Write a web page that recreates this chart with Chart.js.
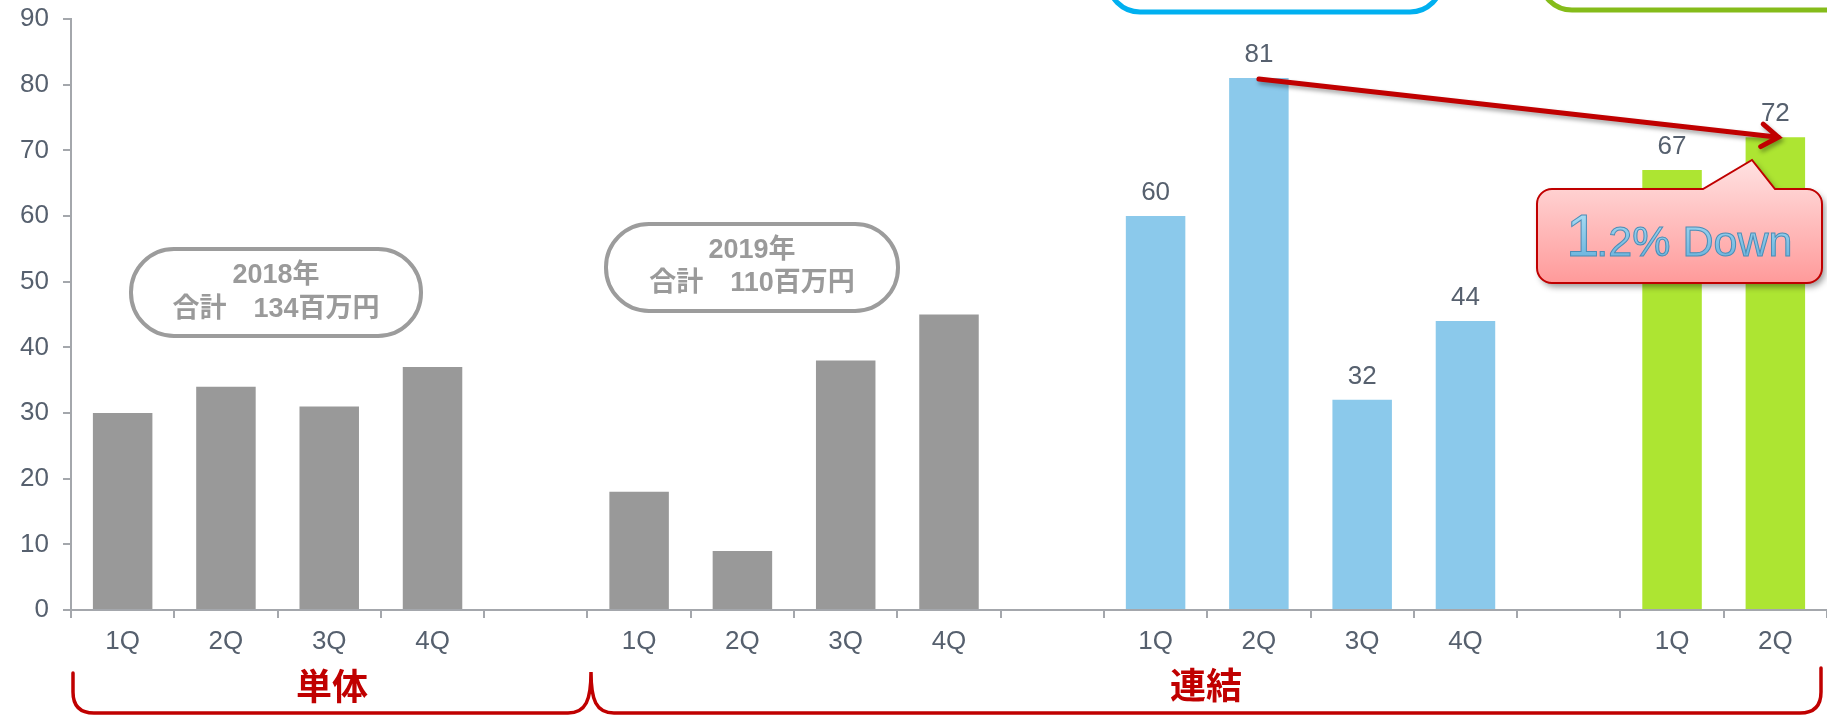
<!DOCTYPE html>
<html>
<head>
<meta charset="utf-8">
<script src="https://cdn.jsdelivr.net/npm/chart.js@4.4.0/dist/chart.umd.min.js"></script>
<style>
  html, body { margin: 0; padding: 0; background: #fff; }
  #wrap { width: 1827px; height: 723px; }
</style>
</head>
<body>
<div id="wrap"><canvas id="salesChart" width="1827" height="723"></canvas></div>
<script>
// quarter labels, blank slot between the year groups
const quarterLabels = ['1Q', '2Q', '3Q', '4Q', '', '1Q', '2Q', '3Q', '4Q', '', '1Q', '2Q', '3Q', '4Q', '', '1Q', '2Q'];

// values (百万円)
const tanti2018 = [30, 34, 31, 37];
const tanti2019 = [18, 9, 38, 45];
const renketsu2020 = [60, 81, 32, 44];
const renketsu2021 = [67, 72];

const groupColors = ['#999999', '#999999', '#8bc9eb', '#ade532'];
const groupShowValue = [false, false, true, true];
const yTicks = [0, 10, 20, 30, 40, 50, 60, 70, 80, 90];

// flatten groups into one series with gaps
const groups = [tanti2018, tanti2019, renketsu2020, renketsu2021];
const values = [];
const colors = [];
const showValue = [];
groups.forEach((g, gi) => {
  g.forEach(v => {
    values.push(v);
    colors.push(groupColors[gi]);
    showValue.push(groupShowValue[gi]);
  });
  if (gi < groups.length - 1) {
    values.push(null);
    colors.push('#ffffff');
    showValue.push(false);
  }
});

const axisGrey = '#a4a7ac';
const tickFont = { family: '"Liberation Sans", Arial, sans-serif', size: 26 };
const tickColor = '#56606e';

function roundPill(ctx, x, y, w, h, r) {
  ctx.beginPath();
  ctx.roundRect(x, y, w, h, r);
}

// annotations: value labels, pills, braces, arrow and callout
const annotations = {
  id: 'annotations',
  afterDatasetsDraw(chart) {
    const ctx = chart.ctx;
    const meta = chart.getDatasetMeta(0);
    ctx.save();
    ctx.font = '26px "Liberation Sans", Arial, sans-serif';
    ctx.fillStyle = tickColor;
    ctx.textAlign = 'center';
    ctx.textBaseline = 'alphabetic';
    meta.data.forEach((bar, i) => {
      if (showValue[i] && values[i] != null) {
        ctx.fillText(String(values[i]), bar.x, bar.y - 16);
      }
    });
    ctx.restore();
  },
  afterDraw(chart) {
    const ctx = chart.ctx;
    const meta = chart.getDatasetMeta(0);
    ctx.save();

    // top boxes (cut off by the top edge)
    ctx.lineWidth = 5;
    ctx.strokeStyle = '#00b0f0';
    roundPill(ctx, 1108, -80, 334, 92, 32);
    ctx.stroke();
    ctx.strokeStyle = '#85bc1a';
    roundPill(ctx, 1540, -80, 320, 90, 32);
    ctx.stroke();

    // year total pills
    ctx.lineWidth = 4;
    ctx.strokeStyle = '#9c9c9c';
    roundPill(ctx, 131, 249, 290, 87, 43);
    ctx.stroke();
    roundPill(ctx, 606, 224, 292, 87, 43);
    ctx.stroke();
    ctx.fillStyle = '#9a9a9a';
    ctx.font = 'bold 27px "Liberation Sans", "Noto Sans CJK JP", sans-serif';
    ctx.textAlign = 'center';
    ctx.textBaseline = 'middle';
    ctx.fillText('2018年', 276, 276);
    ctx.fillText('合計\u3000134百万円', 276, 310);
    ctx.fillText('2019年', 752, 251);
    ctx.fillText('合計\u3000110百万円', 752, 284);

    // braces under the axis
    ctx.strokeStyle = '#c00000';
    ctx.lineWidth = 3.5;
    ctx.lineCap = 'round';
    ctx.beginPath();
    ctx.moveTo(73, 673);
    ctx.lineTo(73, 692);
    ctx.quadraticCurveTo(73, 713, 94, 713);
    ctx.lineTo(568, 713);
    ctx.bezierCurveTo(586, 713, 591, 700, 591, 672);
    ctx.bezierCurveTo(591, 700, 596, 713, 614, 713);
    ctx.lineTo(1800, 713);
    ctx.quadraticCurveTo(1821, 713, 1821, 692);
    ctx.lineTo(1821, 668);
    ctx.stroke();
    ctx.fillStyle = '#c00000';
    ctx.font = 'bold 36px "Noto Sans CJK JP", sans-serif';
    ctx.textBaseline = 'middle';
    ctx.fillText('単体', 332, 686);
    ctx.fillText('連結', 1206, 685);

    // arrow from 2Q (81) to latest 2Q (72)
    const from = meta.data[11];
    const to = meta.data[16];
    const x1 = from.x, y1 = from.y + 1;
    const x2 = to.x + 3, y2 = to.y;
    ctx.shadowColor = 'rgba(0,0,0,0.35)';
    ctx.shadowBlur = 4;
    ctx.shadowOffsetX = 2;
    ctx.shadowOffsetY = 3;
    ctx.strokeStyle = '#c00000';
    ctx.lineWidth = 5;
    ctx.beginPath();
    ctx.moveTo(x1, y1);
    ctx.lineTo(x2, y2);
    const ang = Math.atan2(y2 - y1, x2 - x1);
    const hl = 20;
    ctx.moveTo(x2 - hl * Math.cos(ang - 0.6), y2 - hl * Math.sin(ang - 0.6));
    ctx.lineTo(x2, y2);
    ctx.lineTo(x2 - hl * Math.cos(ang + 0.6), y2 - hl * Math.sin(ang + 0.6));
    ctx.stroke();

    // callout "1.2% Down"
    const L = 1537, R = 1822, T = 189, B = 283, r = 15;
    ctx.beginPath();
    ctx.moveTo(L + r, T);
    ctx.lineTo(1703, T);
    ctx.lineTo(1752, 160);
    ctx.lineTo(1775, T);
    ctx.lineTo(R - r, T);
    ctx.arcTo(R, T, R, T + r, r);
    ctx.lineTo(R, B - r);
    ctx.arcTo(R, B, R - r, B, r);
    ctx.lineTo(L + r, B);
    ctx.arcTo(L, B, L, B - r, r);
    ctx.lineTo(L, T + r);
    ctx.arcTo(L, T, L + r, T, r);
    ctx.closePath();
    const grad = ctx.createLinearGradient(0, 160, 0, B);
    grad.addColorStop(0, '#ffe2e2');
    grad.addColorStop(1, '#ff9a9a');
    ctx.fillStyle = grad;
    ctx.shadowColor = 'rgba(0,0,0,0.4)';
    ctx.shadowBlur = 6;
    ctx.shadowOffsetX = 3;
    ctx.shadowOffsetY = 4;
    ctx.fill();
    ctx.shadowColor = 'transparent';
    ctx.strokeStyle = '#c00000';
    ctx.lineWidth = 2;
    ctx.stroke();

    const tg = ctx.createLinearGradient(0, 212, 0, 257);
    tg.addColorStop(0, '#a9dcf4');
    tg.addColorStop(1, '#6fb6de');
    ctx.fillStyle = tg;
    ctx.strokeStyle = '#4c8db6';
    ctx.lineWidth = 1;
    ctx.textAlign = 'left';
    ctx.textBaseline = 'alphabetic';
    ctx.font = '60px "Liberation Sans", Arial, sans-serif';
    ctx.fillText('1', 1566, 256);
    ctx.strokeText('1', 1566, 256);
    const w1 = ctx.measureText('1').width;
    ctx.font = '43px "Liberation Sans", Arial, sans-serif';
    ctx.fillText('.2% Down', 1566 + w1 - 3, 256);
    ctx.strokeText('.2% Down', 1566 + w1 - 3, 256);

    ctx.restore();
  }
};

new Chart(document.getElementById('salesChart'), {
  type: 'bar',
  data: {
    labels: quarterLabels,
    datasets: [{
      data: values,
      backgroundColor: colors,
      barPercentage: 0.576,
      categoryPercentage: 1.0
    }]
  },
  options: {
    responsive: false,
    animation: false,
    layout: { padding: { top: 19, right: 0, bottom: 0, left: 0 } },
    plugins: {
      legend: { display: false },
      tooltip: { enabled: false }
    },
    scales: {
      x: {
        afterFit: s => { s.height = 113; s.paddingLeft = 0; s.paddingRight = 0; },
        grid: {
          offset: true,
          drawOnChartArea: false,
          tickLength: 8,
          color: axisGrey,
          lineWidth: 2
        },
        border: { display: true, color: axisGrey, width: 2 },
        ticks: { font: tickFont, color: tickColor, padding: 8 }
      },
      y: {
        min: 0,
        max: 90,
        afterFit: s => { s.width = 71; s.paddingTop = 0; s.paddingBottom = 0; },
        afterBuildTicks: s => { s.ticks = yTicks.map(v => ({ value: v })); },
        grid: {
          drawOnChartArea: false,
          tickLength: 8,
          color: axisGrey,
          lineWidth: 2
        },
        border: { display: true, color: axisGrey, width: 2 },
        ticks: { font: tickFont, color: tickColor, padding: 14 }
      }
    }
  },
  plugins: [annotations]
});
</script>
</body>
</html>
